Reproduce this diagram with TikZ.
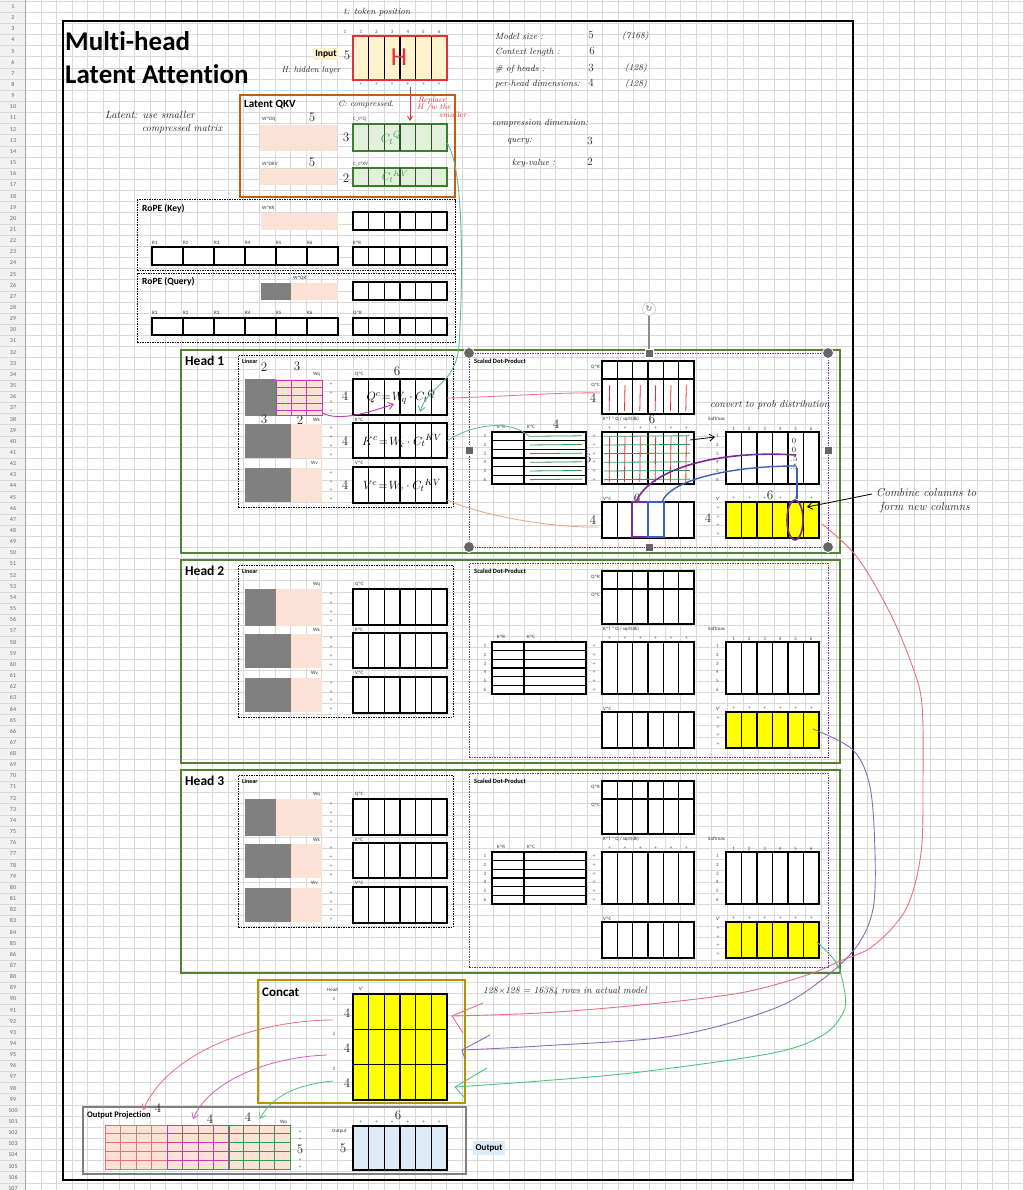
\documentclass[tikz,border=0pt]{standalone}
\usepackage{fontspec}
\setsansfont{Carlito}[Ligatures=NoCommon]
\newfontfamily\dejavu{DejaVu Sans}
\usetikzlibrary{arrows.meta}
\definecolor{gridc}{HTML}{D9D9D9}
\definecolor{hdrbg}{HTML}{F2F2F2}
\definecolor{peach}{HTML}{FBE2D5}
\definecolor{inyel}{HTML}{FFF2CC}
\definecolor{lgreen}{HTML}{E2EFDA}
\definecolor{dgreen}{HTML}{3A7D2C}
\definecolor{lblue}{HTML}{DDEBF7}
\definecolor{vyel}{HTML}{FFFF00}
\definecolor{wgray}{HTML}{808080}
\definecolor{headg}{HTML}{548235}
\definecolor{latorange}{HTML}{C55A11}
\definecolor{concatc}{HTML}{BF8F00}
\definecolor{sdpc}{HTML}{7030A0}
\definecolor{opc}{HTML}{7F7F7F}
\definecolor{hred}{HTML}{E0303A}
\definecolor{hpink}{HTML}{E8707C}
\definecolor{hmag}{HTML}{C837B8}
\definecolor{hgreen}{HTML}{2E9E4E}
\definecolor{hteal}{HTML}{5FB89A}
\definecolor{hpurp}{HTML}{8C6BC0}
\definecolor{hblue}{HTML}{3C62B8}
\definecolor{hviol}{HTML}{7A2A95}
\definecolor{hsal}{HTML}{F0A080}
\definecolor{handc}{HTML}{222222}
\newcommand\crt{\textasciicircum}
% name x y w h fill
\newcommand\mymat[6]{%
  \node[mbox,fill=#6,minimum width=#4pt,minimum height=#5pt,anchor=north west] (#1) at (#2,#3) {};
  \foreach \j in {1,...,5} \draw[mline] (#2+\j*#4/6,#3) -- (#2+\j*#4/6,#3+#5);
}
\begin{document}
\begin{tikzpicture}[x=1pt,y=-1pt,
  mbox/.style={draw=black,line width=1.3pt,inner sep=0pt,outer sep=0pt},
  mline/.style={line width=1.3pt,black},
  lab/.style={font=\sffamily\fontsize{5}{6}\selectfont,inner sep=0pt,anchor=west,text=black!80},
  plus/.style={font=\sffamily\fontsize{5}{6}\selectfont,inner sep=0pt,text=black!70},
  blab/.style={font=\sffamily\bfseries\fontsize{6.5}{7}\selectfont,inner sep=0pt,anchor=west},
  hand/.style={font=\rmfamily\itshape\fontsize{9}{10}\selectfont,inner sep=0pt,text=handc},
  hnum/.style={font=\rmfamily\fontsize{13}{14}\selectfont,inner sep=0pt,text=handc},
  frm/.style={inner sep=0pt,outer sep=0pt,anchor=north west},
  dbox/.style={frm,draw=black,line width=1pt,dash pattern=on 1.5pt off 1pt},
  sdpbox/.style={frm,draw=sdpc,line width=1pt,dash pattern=on 1.5pt off 1pt},
  hbox/.style={frm,draw=headg,line width=1.5pt},
  hh/.style={circle,fill=black!60,draw=white,line width=0.8pt,minimum size=11pt,inner sep=0pt},
  hs/.style={rectangle,fill=black!60,draw=white,line width=0.8pt,minimum size=8pt,inner sep=0pt},
  barb/.style={-{Straight Barb[length=5pt,width=7pt]}}
]
\useasboundingbox (0,0) rectangle (1024,1190);
\fill[white] (0,0) rectangle (1024,1190);
\fill[hdrbg] (0,0) rectangle (25.4,1190);
\foreach \k in {0,...,64} \draw[gridc,line width=0.7pt] (25.4+15.6*\k,0) -- (25.4+15.6*\k,1190);
\foreach \k in {0,...,107} \draw[gridc,line width=0.7pt] (0,1+11.15*\k) -- (1024,1+11.15*\k);
\draw[black!35,line width=0.7pt] (25.4,0) -- (25.4,1190);
\foreach \k in {1,...,107} \node[font=\sffamily\fontsize{6}{6}\selectfont,text=black!60,inner sep=0pt] at (13,1+11.15*\k-5.6) {\k};

% main frame
\node[frm,draw=black,line width=2pt,minimum width=790pt,minimum height=1159pt] (frame) at (63,21) {};
\node[font=\sffamily\bfseries\fontsize{27}{28}\selectfont,inner sep=0pt,anchor=west] (t1) at (65,41) {Multi-head};
\node[font=\sffamily\bfseries\fontsize{27}{28}\selectfont,inner sep=0pt,anchor=west] (t2) at (65,74) {Latent Attention};

% input
\node[hand] (tpos) at (377,12) {t: token position};
\node[fill=inyel,font=\sffamily\bfseries\fontsize{9.5}{10}\selectfont,inner xsep=2pt,inner ysep=2pt] (inlab) at (326,54) {Input};
\node[hnum] (in5) at (347,55) {5};
\node[hand,font=\rmfamily\itshape\fontsize{8.5}{9}\selectfont] (hid) at (311,70) {H: hidden layer};
\node[frm,draw=hred,line width=1.3pt,fill=inyel,minimum width=94pt,minimum height=44pt] (inmat) at (353,36) {};
\foreach \j in {1,...,5} \draw[mline] (353+\j*94/6,37) -- (353+\j*94/6,79);
\node[plus] at (345,32) {1};
\foreach \j in {1,...,6} {\node[plus] at (353+94/6*\j-7.83,32) {\j}; \node[plus] at (353+94/6*\j-7.83,84.5) {+};}
\node[font=\sffamily\fontsize{26}{26}\selectfont,text=hred,inner sep=0pt] (bigH) at (399,57) {H};
\coordinate (ra1) at (410,87);
\coordinate (ra2) at (410,121);
\draw[hred,line width=0.9pt,-{Straight Barb[length=4pt,width=5pt]}] (ra1) -- (ra2);
\node[hand,text=hred,font=\rmfamily\itshape\fontsize{8}{8}\selectfont] (rp1) at (432,100) {Replace};
\node[hand,text=hred,font=\rmfamily\itshape\fontsize{8}{8}\selectfont] (rp2) at (434,108) {H /w the};
\node[hand,text=hred,font=\rmfamily\itshape\fontsize{8}{8}\selectfont] (rp3) at (453,115) {smaller};

% right notes
\begin{scope}[every node/.style={hand,anchor=west}]
\node (n1) at (495,36) {Model size :};
\node (n2) at (495,52) {Context length :};
\node (n3) at (495,69) {\# of heads :};
\node (n4) at (495,84) {per-head dimensions:};
\node (n5) at (492,123) {compression dimension:};
\node (n6) at (507,141) {query:};
\node (n7) at (512,163) {key-value :};
\node (v7168) at (622,36) {(7168)};
\node (v128a) at (625,68) {(128)};
\node (v128b) at (625,84) {(128)};
\end{scope}
\begin{scope}[every node/.style={hnum,font=\rmfamily\fontsize{11}{12}\selectfont}]
\node (d1) at (591,35) {5};
\node (d2) at (592,51) {6};
\node (d3) at (591,68) {3};
\node (d4) at (591,83) {4};
\node (d5) at (590,141) {3};
\node (d6) at (590,162) {2};
\end{scope}

% latent note
\node[hand,font=\rmfamily\itshape\fontsize{10.5}{11}\selectfont] (lat1) at (150,115) {Latent: use smaller};
\node[hand,font=\rmfamily\itshape\fontsize{10}{11}\selectfont] (lat2) at (182,129) {compressed matrix};

% Latent QKV
\node[frm,draw=latorange,line width=1.5pt,minimum width=215pt,minimum height=102pt] (latbox) at (240,95) {};
\node[font=\sffamily\bfseries\fontsize{11}{12}\selectfont,inner sep=0pt,anchor=west] (latlab) at (244,105) {Latent QKV};
\node[hand,anchor=west,font=\rmfamily\itshape\fontsize{8}{9}\selectfont] (ccomp) at (338,104) {C: compressed.};
\node[lab] at (262,119) {W\crt DQ};
\node[hnum] at (312,117) {5};
\fill[peach] (260,125) rectangle (337,151);
\node[hnum] at (346,137) {3};
\node[lab] at (353,119) {C\_t\crt Q};
\node[frm,draw=dgreen,line width=1.3pt,fill=lgreen,minimum width=94pt,minimum height=27pt] (cq) at (353,124) {};
\foreach \j in {1,...,5} \draw[dgreen!70!black,line width=1.3pt] (353+\j*94/6,124) -- (353+\j*94/6,151);
\node[text=hgreen,inner sep=0pt,font=\fontsize{13}{13}\selectfont] at (391,138) {$C_t{}^{Q}$};
\node[lab] at (262,164) {W\crt DKV};
\node[hnum] at (312,162) {5};
\fill[peach] (260,169) rectangle (337,185);
\node[hnum] at (346,178) {2};
\node[lab] at (353,164) {C\_t\crt KV};
\node[frm,draw=dgreen,line width=1.3pt,fill=lgreen,minimum width=94pt,minimum height=18pt] (ckv) at (353,168) {};
\foreach \j in {1,...,5} \draw[dgreen!70!black,line width=1.3pt] (353+\j*94/6,168) -- (353+\j*94/6,186);
\node[text=hgreen,inner sep=0pt,font=\fontsize{11}{11}\selectfont] at (395,177) {$C_t{}^{KV}$};

% RoPE Key
\node[dbox,minimum width=318pt,minimum height=70pt] (ropek) at (137,200) {};
\node[font=\sffamily\bfseries\fontsize{9.5}{10}\selectfont,inner sep=0pt,anchor=west] at (142,209) {RoPE (Key)};
\node[lab] at (262,208) {W\crt KR};
\fill[peach] (261,213) rectangle (338,230);
\mymat{kr1}{353}{212}{94}{18}{white}
\foreach \j in {1,...,6} \node[lab] at (152+31*\j-31,243) {R\j};
\mymat{rk}{152}{247}{186}{18}{white}
\node[lab] at (353,243) {K\crt R};
\mymat{kr2}{353}{247}{94}{18}{white}

% RoPE Query
\node[dbox,minimum width=318pt,minimum height=69pt] (ropeq) at (137,273) {};
\node[font=\sffamily\bfseries\fontsize{9.5}{10}\selectfont,inner sep=0pt,anchor=west] at (142,282) {RoPE (Query)};
\fill[wgray] (261,283) rectangle (291,300);
\fill[peach] (291,283) rectangle (338,300);
\node[lab] at (293,278) {W\crt QR};
\mymat{qr0}{353}{282}{94}{18}{white}
\foreach \j in {1,...,6} \node[lab] at (152+31*\j-31,313) {R\j};
\mymat{rq}{152}{318}{186}{17}{white}
\node[lab] at (353,313) {Q\crt R};
\mymat{qr00}{353}{318}{94}{17}{white}

% heads
\foreach \h in {0,1,2} {
  \pgfmathsetmacro\dy{210*\h}
  \pgfmathtruncatemacro\hn{\h+1}
  \node[hbox,minimum width=659pt,minimum height=203pt] (head\hn) at (181,350+\dy) {};
  \node[font=\sffamily\bfseries\fontsize{13.5}{14}\selectfont,inner sep=0pt,anchor=west] at (185,361+\dy) {Head \hn};
  \node[dbox,minimum width=215pt,minimum height=152pt] (lin\hn) at (238,355+\dy) {};
  \node[blab,font=\sffamily\bfseries\fontsize{6}{7}\selectfont] at (242,361+\dy) {Linear};
  % Wq
  \node[lab] at (313,374+\dy) {Wq};
  \fill[wgray] (245,379+\dy) rectangle (276,416+\dy);
  \fill[peach] (276,379+\dy) rectangle (322,416+\dy);
  \node[lab] at (355,374+\dy) {Q\crt C};
  \mymat{qc\hn}{353}{379+\dy}{94}{36}{white}
  % Wk
  \node[lab] at (313,420+\dy) {Wk};
  \fill[wgray] (245,424+\dy) rectangle (291,458+\dy);
  \fill[peach] (291,424+\dy) rectangle (322,458+\dy);
  \node[lab] at (355,420+\dy) {K\crt C};
  \mymat{kc\hn}{353}{423+\dy}{94}{35}{white}
  % Wv
  \node[lab] at (311,463+\dy) {Wv};
  \fill[wgray] (245,468+\dy) rectangle (291,502+\dy);
  \fill[peach] (291,468+\dy) rectangle (322,502+\dy);
  \node[lab] at (355,463+\dy) {V\crt C};
  \mymat{vc\hn}{353}{467+\dy}{94}{36}{white}
  \foreach \p in {384,393,402,411,428,437,446,455,473,482,490,499} \node[plus] at (331,\p+\dy) {+};
  % scaled dot product
  \node[sdpbox,minimum width=359pt,minimum height=194pt] (sdp\hn) at (469,353+\dy) {};
  \node[blab] at (474,361+\dy) {Scaled Dot-Product};
  \node[lab,anchor=east] at (600,367+\dy) {Q\crt R};
  \node[lab,anchor=east] at (600,385+\dy) {Q\crt C};
  \mymat{sqr\hn}{602}{361+\dy}{92}{18}{white}
  \mymat{sqc\hn}{602}{379+\dy}{92}{35}{white}
  \node[lab] at (603,419+\dy) {K\crt T * Q / sqrt(dk)};
  \mymat{kq\hn}{602}{432+\dy}{92}{52}{white}
  \node[lab] at (497,427+\dy) {K\crt R};
  \node[lab] at (527,427+\dy) {K\crt C};
  \node[mbox,fill=white,minimum width=94pt,minimum height=52pt,anchor=north west] (kt\hn) at (492,432+\dy) {};
  \draw[mline] (524,432+\dy) -- (524,484+\dy);
  \foreach \r in {1,...,5} \draw[mline] (492,432+\dy+\r*8.667) -- (586,432+\dy+\r*8.667);
  \node[lab] at (708,419+\dy) {Softmax};
  \mymat{sm\hn}{726}{432+\dy}{93}{52}{white}
  \foreach \r in {1,...,6} {
    \node[plus] at (485,436.3+\dy+\r*8.667-8.667) {\r};
    \node[plus] at (594,436.3+\dy+\r*8.667-8.667) {+};
    \node[plus] at (717.5,436.3+\dy+\r*8.667-8.667) {\r};
    \node[plus] at (602+15.333*\r-7.67,428.5+\dy) {+};
    \node[plus] at (726+15.5*\r-7.75,428.5+\dy) {\r};
    \node[plus] at (726+15.5*\r-7.75,498.5+\dy) {+};
  }
  \node[lab] at (603,498.5+\dy) {V\crt C};
  \mymat{svc\hn}{602}{502+\dy}{92}{36}{white}
  \node[lab] at (716,498.5+\dy) {V'};
  \foreach \p in {508,517,525.5,534} \node[plus] at (718,\p+\dy) {+};
  \mymat{vp\hn}{726}{502+\dy}{93}{36}{vyel}
}

% ===== head 1 annotations =====
\node[hnum] at (264,367) {2};
\node[hnum] at (297,366) {3};
\node[hnum] at (264,419) {3};
\node[hnum] at (300,420) {2};
\node[hnum] at (345,396) {4};
\node[hnum] at (345,441) {4};
\node[hnum] at (345,485) {4};
\node[hnum] at (397,371) {6};
\draw[hmag,line width=0.9pt] (276,380) rectangle (322,415);
\foreach \xx in {291.3,306.7} \draw[hmag,line width=0.9pt] (\xx,380) -- (\xx,415);
\foreach \yy in {387,395,403,410} \draw[hmag,line width=0.9pt] (276,\yy) -- (322,\yy);
\node[inner sep=0pt,font=\fontsize{13}{13}\selectfont] (fq) at (401,397) {$Q^{c}\!=\!W_{\!q}\cdot C_t{}^{Q}$};
\node[inner sep=0pt,font=\fontsize{13}{13}\selectfont] (fk) at (402,441) {$K^{c}\!=\!W_{\!k}\cdot C_t{}^{KV}$};
\node[inner sep=0pt,font=\fontsize{13}{13}\selectfont] (fv) at (402,485) {$V^{c}\!=\!W_{\!v}\cdot C_t{}^{KV}$};
\coordinate (mg1) at (322,413);
\coordinate (mg2) at (394,404);
\draw[hmag,line width=0.9pt,barb] (mg1) .. controls (340,422) and (370,412) .. (mg2);
% green from C_t^Q to Q^C
\coordinate (g1) at (447,143);
\coordinate (g2) at (420,412);
\draw[hteal,line width=0.9pt,barb] (g1) .. controls (466,170) and (462,300) .. (459,345) .. controls (456,385) and (428,385) .. (g2);
% head 1 -> SDP connectors
\coordinate (rq1) at (447,398);
\coordinate (rq2) at (600,393);
\draw[hpink,line width=0.8pt] (rq1) .. controls (500,397) and (560,392) .. (rq2);
\coordinate (gk1) at (447,441);
\coordinate (gk2) at (530,437);
\draw[hteal,line width=0.8pt] (gk1) .. controls (470,425) and (510,418) .. (gk2);
\coordinate (sv1) at (447,500);
\coordinate (sv2) at (598,527);
\draw[hsal,line width=0.8pt] (sv1) .. controls (480,515) and (550,528) .. (sv2);
% strokes in SDP head1
\foreach \j in {1,...,6} {
  \draw[hred,line width=0.8pt] (602+15.333*\j-7.67,385) -- (602+15.333*\j-8.2,411);
  \draw[hred,line width=0.8pt] (602+15.333*\j-7.67,436) -- (602+15.333*\j-8.2,482);
  \draw[hgreen,line width=0.8pt] (604,436.3+\j*8.667-8.667) -- (690,435.8+\j*8.667-8.667);
  \draw[hgreen,line width=0.8pt] (530,436.3+\j*8.667-8.667) -- (582,435.8+\j*8.667-8.667);
}
\node[hnum] at (593,398) {4};
\node[hnum] at (652,419) {6};
\node[hnum] at (556,424) {4};
\node[hnum] at (588,458) {6};
\node[hnum] at (637,498) {6};
\node[hnum] at (593,520) {4};
\node[hnum] at (708,518) {4};
\node[hnum] at (770,495) {6};
\node[hand,anchor=west,font=\rmfamily\itshape\fontsize{10}{11}\selectfont] (conv) at (710,405) {convert to prob distribution};
\coordinate (ak1) at (690,440);
\coordinate (ak2) at (715,437);
\draw[black,line width=0.8pt,barb] (ak1) -- (ak2);
\begin{scope}[every node/.style={hand,font=\rmfamily\fontsize{8}{8}\selectfont}]
\node at (794,441) {0};
\node at (794,450) {0};
\node at (794,459) {.5};
\node at (794,467) {.5};
\end{scope}
% blue/purple selection strokes
\draw[hviol,line width=1.6pt] (796,455) .. controls (720,450) and (650,468) .. (636,502);
\draw[hblue,line width=1.4pt] (796,466) .. controls (730,466) and (670,480) .. (662,502);
\draw[hviol,line width=1.4pt] (632,502) rectangle (648,537);
\draw[hblue,line width=1.4pt] (648,502) rectangle (664,537);
\draw[hblue,line width=1.4pt] (797,468) -- (797,499);
\draw[hviol,line width=1.6pt] (795,520) ellipse (8 and 20);
% combine annotation
\node[hand,anchor=west,font=\rmfamily\itshape\fontsize{11.5}{12}\selectfont] (comb1) at (876,493) {Combine columns to};
\node[hand,anchor=west,font=\rmfamily\itshape\fontsize{11.5}{12}\selectfont] (comb2) at (880,508) {form new columns};
\coordinate (cb1) at (872,494);
\coordinate (cb2) at (807,507);
\draw[black,line width=0.8pt,barb] (cb1) -- (cb2);
% selection handles of head-1 SDP
\coordinate (rt0) at (649,353);
\draw[black!45,line width=1.2pt] (rt0) -- (649,316);
\node[circle,draw=black!30,fill=white,minimum size=13pt,inner sep=0pt,font=\dejavu\fontsize{8}{8}\selectfont,text=black!60] (rot) at (649,309) {↻};
\foreach \p in {(469,353),(828,353),(469,547),(828,547)} \node[hh] at \p {};
\foreach \p in {(649,353),(469,450),(828,450),(649,547)} \node[hs] at \p {};

% ===== Concat =====
\node[frm,draw=concatc,line width=1.5pt,minimum width=207pt,minimum height=123pt] (concat) at (258,980) {};
\node[font=\sffamily\bfseries\fontsize{13}{14}\selectfont,inner sep=0pt,anchor=west] at (262,992) {Concat};
\node[lab] at (327,990) {Head};
\node[lab] at (359,989) {V'};
\mymat{cmat}{353}{994}{94}{106}{vyel}
\draw[mline] (353,1029.3) -- (447,1029.3);
\draw[mline] (353,1064.7) -- (447,1064.7);
\node[plus] at (334,999) {1};
\node[plus] at (334,1034) {2};
\node[plus] at (334,1069) {3};
\node[hnum] at (347,1013) {4};
\node[hnum] at (347,1048) {4};
\node[hnum] at (347,1083) {4};
\node[hand,anchor=west,font=\rmfamily\itshape\fontsize{9.5}{10}\selectfont] (n128) at (483,991) {128×128 = 16384 rows in actual model};

% long curves from V' to concat
\coordinate (vo1) at (822,524);
\coordinate (ci1) at (452,1016);
\draw[hpink,line width=0.9pt] plot[smooth,tension=0.55] coordinates {(vo1) (857,557) (890,613) (913,668) (922,705) (923,779) (921,853) (906,909) (873,946) (840,961) (807,975) (740,993) (640,1005) (540,1013) (ci1)};
\draw[hpink,line width=0.9pt] (483,1003) -- (ci1) -- (463,1033);
\coordinate (vo2) at (813,729);
\coordinate (ci2) at (462,1050);
\draw[hpurp,line width=0.9pt] plot[smooth,tension=0.55] coordinates {(vo2) (853,750) (870,787) (875,853) (873,909) (857,946) (823,979) (773,1009) (673,1036) (540,1046) (ci2)};
\draw[hpurp,line width=0.9pt] (490,1035) -- (ci2) -- (465,1059);
\coordinate (vo3) at (817,942);
\coordinate (ci3) at (455,1087);
\draw[hteal!80!green,line width=0.9pt] plot[smooth,tension=0.55] coordinates {(vo3) (837,964) (845,994) (843,1013) (823,1035) (773,1053) (640,1072) (540,1081) (ci3)};
\draw[hteal!80!green,line width=0.9pt] (487,1068) -- (ci3) -- (465,1098);

% ===== Output projection =====
\node[frm,draw=opc,line width=1.5pt,minimum width=383pt,minimum height=67pt] (outproj) at (83,1107) {};
\node[font=\sffamily\bfseries\fontsize{8.5}{9}\selectfont,inner sep=0pt,anchor=west] at (87,1115) {Output Projection};
\fill[peach] (105,1125) rectangle (290,1170);
\foreach \xa/\cc in {105/hpink,167/hmag,228/hgreen} {
  \draw[\cc,line width=0.8pt] (\xa,1125) rectangle (\xa+62,1169);
  \foreach \i in {1,2,3} \draw[\cc,line width=0.8pt] (\xa+15.5*\i,1125) -- (\xa+15.5*\i,1169);
  \foreach \i in {1,...,4} \draw[\cc,line width=0.8pt] (\xa,1125+8.8*\i) -- (\xa+62,1125+8.8*\i);
}
\node[hnum] at (158,1108) {4};
\node[hnum] at (210,1119) {4};
\node[hnum] at (248,1117) {4};
\node[lab] at (280,1122) {Wo};
\foreach \p in {1132,1139,1160,1167} \node[plus] at (300,\p) {+};
\node[hnum] at (300,1149) {5};
\node[lab] at (332,1131) {Output};
\node[hnum] at (343,1148) {5};
\mymat{omat}{353}{1126}{94}{44}{lblue}
\foreach \j in {1,...,6} \node[plus] at (353+94/6*\j-7.83,1122) {+};
\node[hnum] at (398,1115) {6};
\node[fill=lblue,font=\sffamily\bfseries\fontsize{9}{10}\selectfont,inner xsep=3pt,inner ysep=3pt] (outlab) at (489,1148) {Output};

% concat -> output projection
\coordinate (cr0) at (333,1020);
\coordinate (op1) at (143,1110);
\draw[hpink,line width=0.8pt,barb] (cr0) .. controls (260,1020) and (170,1050) .. (op1);
\coordinate (cm0) at (327,1055);
\coordinate (op2) at (193,1119);
\draw[hmag!80,line width=0.8pt,barb] (cm0) .. controls (270,1057) and (210,1080) .. (op2);
\coordinate (cg0) at (333,1081);
\coordinate (op3) at (260,1119);
\draw[hteal!80!green,line width=0.8pt,barb] (cg0) .. controls (300,1084) and (272,1095) .. (op3);
\end{tikzpicture}
\end{document}
